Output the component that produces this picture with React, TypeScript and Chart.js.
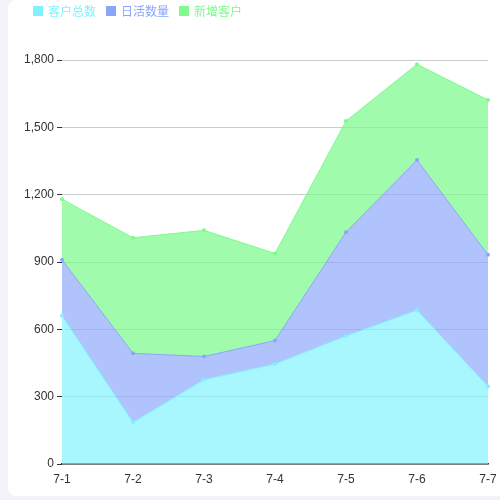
import React, { useEffect, useRef } from "react";
import { Chart, registerables } from "chart.js";

Chart.register(...registerables);

const categories = ["7-1", "7-2", "7-3", "7-4", "7-5", "7-6", "7-7"];
const seriesNames = ["客户总数", "日活数量", "新增客户"];
const totalCustomers = [660, 185, 375, 445, 570, 685, 345];
const dailyActive = [250, 308, 104, 105, 463, 669, 587];
const newCustomers = [270, 515, 562, 388, 495, 427, 690];
const yMax = 1800;
const yStep = 300;

const lineColors = ["#7ff2fd", "#8aa6fb", "#80f98f"];
const fillColors = ["rgba(127,242,253,0.68)", "rgba(138,166,251,0.68)", "rgba(125,250,140,0.72)"];
const FONT = "'Noto Sans CJK SC', 'Noto Sans', sans-serif";
const TICK_FONT = "'Liberation Sans', Arial, sans-serif";

export default function App() {
  const ref = useRef<HTMLCanvasElement | null>(null);

  useEffect(() => {
    document.body.style.margin = "0";
    document.body.style.background = "#f2f3f8";
    const values = [totalCustomers, dailyActive, newCustomers];
    const chart = new Chart(ref.current as HTMLCanvasElement, {
      type: "line",
      data: {
        labels: categories,
        datasets: values.map((v, i) => ({
          label: seriesNames[i],
          data: v,
          borderColor: lineColors[i],
          backgroundColor: fillColors[i],
          pointBackgroundColor: lineColors[i],
          pointBorderColor: lineColors[i],
          pointRadius: 2,
          pointBorderWidth: 0,
          borderWidth: 1,
          tension: 0,
          fill: i === 0 ? "origin" : "-1",
        })),
      },
      options: {
        animation: false,
        responsive: false,
        maintainAspectRatio: false,
        layout: { padding: { top: 60, right: 12, left: 0, bottom: 0 } },
        plugins: { legend: { display: false }, tooltip: { enabled: false } },
        scales: {
          x: {
            grid: { display: false },
            border: { display: true, color: "#333", width: 1.5 },
            ticks: { color: "#333", font: { family: TICK_FONT, size: 12 }, padding: 0, maxRotation: 0, autoSkip: false },
            afterFit: (s: any) => {
              s.height = 32;
            },
          },
          y: {
            stacked: true,
            min: 0,
            max: yMax,
            ticks: { stepSize: yStep, color: "#333", font: { family: TICK_FONT, size: 12 }, padding: 3 },
            grid: { color: "#cccccc", lineWidth: 1, tickLength: 5, tickColor: "#333" },
            border: { display: false },
            afterFit: (s: any) => {
              s.width = 54;
            },
          },
        },
      },
    });
    return () => chart.destroy();
  }, []);

  return (
    <div
      style={{
        position: "absolute",
        left: 8,
        top: 0,
        width: 500,
        height: 496,
        background: "#fff",
        borderRadius: 8,
        overflow: "hidden",
      }}
    >
      <canvas ref={ref} width={492} height={496} style={{ position: "absolute", left: 0, top: 0, width: 492, height: 496 }} />
      <div
        style={{
          position: "absolute",
          left: 25,
          top: 3,
          display: "flex",
          alignItems: "center",
          fontFamily: FONT,
          fontSize: 12,
          lineHeight: "16px",
        }}
      >
        {seriesNames.map((n, i) => (
          <div key={n} style={{ display: "flex", alignItems: "center", marginRight: 10, color: lineColors[i] }}>
            <span style={{ display: "inline-block", width: 10, height: 10, background: lineColors[i], marginRight: 5 }} />
            <span>{n}</span>
          </div>
        ))}
      </div>
    </div>
  );
}
